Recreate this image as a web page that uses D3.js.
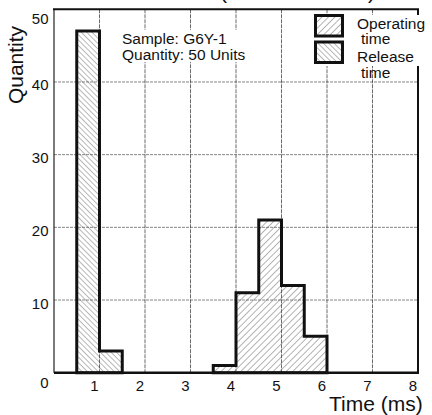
<!DOCTYPE html>
<html>
<head>
<meta charset="utf-8">
<script src="https://cdn.jsdelivr.net/npm/d3@7"></script>
<style>
  body { margin: 0; background: #fff; }
  svg text { font-family: "Liberation Sans", Arial, Helvetica, sans-serif; fill: #111; }
</style>
</head>
<body>
<svg id="main_svg_container" width="432" height="415"></svg>
<script>
// histogram bins (0.5 ms wide)
const bin_width = 0.5;
const operating_start = [3.5, 4.0, 4.5, 5.0, 5.5];
const operating_count = [1, 11, 21, 12, 5];
const release_start = [0.5, 1.0];
const release_count = [47, 3];

const x_ticks = [1, 2, 3, 4, 5, 6, 7, 8];
const y_ticks = [0, 10, 20, 30, 40, 50];
const legend_labels = [["Operating", "time"], ["Release", "time"]];
const sample_text = ["Sample: G6Y-1", "Quantity: 50 Units"];

const svg = d3.select("#main_svg_container");

const x = d3.scaleLinear().domain([0, 8]).range([54, 418]);
const y = d3.scaleLinear().domain([0, 50]).range([372.7, 9.3]);

// hatch patterns
const defs = svg.append("defs");
function addHatch(id, angle, spacing, color, width) {
  defs.append("pattern")
      .attr("id", id)
      .attr("patternUnits", "userSpaceOnUse")
      .attr("width", spacing)
      .attr("height", spacing)
      .attr("patternTransform", "rotate(" + angle + ")")
    .append("line")
      .attr("x1", 0).attr("y1", 0)
      .attr("x2", 0).attr("y2", spacing)
      .attr("stroke", color)
      .attr("stroke-width", width);
}
addHatch("hatch_operating", 45, 4.6, "#444", 0.8);
addHatch("hatch_release", -45, 3.8, "#444", 0.75);

// title (mostly cut off at the top of the picture)
svg.append("text")
    .attr("x", 220)
    .attr("y", -1.5)
    .attr("font-size", 21)
    .attr("textLength", 155)
    .text("(Reference Value)");

// grid
svg.append("g").selectAll("line")
    .data(y_ticks.filter(d => d > 0 && d < 50))
    .enter().append("line")
      .attr("x1", x(0)).attr("x2", x(8))
      .attr("y1", d => y(d)).attr("y2", d => y(d))
      .attr("stroke", "#777")
      .attr("stroke-width", 0.9)
      .attr("stroke-dasharray", "3,1");

svg.append("g").selectAll("line")
    .data(x_ticks.filter(d => d < 8))
    .enter().append("line")
      .attr("x1", d => x(d)).attr("x2", d => x(d))
      .attr("y1", y(50)).attr("y2", y(0))
      .attr("stroke", "#444")
      .attr("stroke-width", 0.8)
      .attr("stroke-dasharray", "4,1");

// histograms
function binPoints(starts, counts) {
  const pts = starts.map((s, i) => ({x: s, v: counts[i]}));
  pts.push({x: starts[starts.length - 1] + bin_width, v: 0});
  return pts;
}

const area = d3.area()
    .curve(d3.curveStepAfter)
    .x(d => x(d.x))
    .y0(y(0))
    .y1(d => y(d.v));

function drawHist(starts, counts, pattern) {
  const pts = binPoints(starts, counts);
  svg.append("path")
      .datum(pts)
      .attr("d", area)
      .attr("fill", "url(#" + pattern + ")")
      .attr("stroke", "#111")
      .attr("stroke-width", 3)
      .attr("stroke-linejoin", "miter");
}
drawHist(release_start, release_count, "hatch_release");
drawHist(operating_start, operating_count, "hatch_operating");

// frame
svg.append("line")
    .attr("x1", x(0)).attr("x2", x(0)).attr("y1", y(50)).attr("y2", y(0))
    .attr("stroke", "#222").attr("stroke-width", 1.2);
svg.append("line")
    .attr("x1", x(0) - 1).attr("x2", x(8) + 1).attr("y1", y(50)).attr("y2", y(50))
    .attr("stroke", "#111").attr("stroke-width", 2);
svg.append("line")
    .attr("x1", x(8)).attr("x2", x(8)).attr("y1", y(50)).attr("y2", y(0))
    .attr("stroke", "#111").attr("stroke-width", 2);
svg.append("line")
    .attr("x1", x(0)).attr("x2", x(8) + 1).attr("y1", y(0)).attr("y2", y(0))
    .attr("stroke", "#111").attr("stroke-width", 2.5);

// tick labels
svg.append("g").selectAll("text")
    .data(x_ticks)
    .enter().append("text")
      .attr("x", d => x(d) - 5)
      .attr("y", 390.5)
      .attr("text-anchor", "middle")
      .attr("font-size", 15)
      .text(d => d);

svg.append("g").selectAll("text")
    .data(y_ticks)
    .enter().append("text")
      .attr("x", 48.5)
      .attr("y", d => y(d) + (d === 0 ? 10 : d === 50 ? 9 : 3) + 5.5)
      .attr("text-anchor", "end")
      .attr("font-size", 15)
      .text(d => d);

// axis titles
svg.append("text")
    .attr("transform", "translate(23,65) rotate(-90)")
    .attr("text-anchor", "middle")
    .attr("font-size", 21)
    .text("Quantity");

svg.append("text")
    .attr("x", 329)
    .attr("y", 411)
    .attr("font-size", 21)
    .text("Time (ms)");

// sample note
svg.append("rect")
    .attr("x", 119).attr("y", 30).attr("width", 132).attr("height", 32)
    .attr("fill", "#fff");
svg.append("g").selectAll("text")
    .data(sample_text)
    .enter().append("text")
      .attr("x", 122)
      .attr("y", (d, i) => 44 + i * 15.8)
      .attr("font-size", 15.5)
      .text(d => d);

// legend
svg.append("rect")
    .attr("x", 308).attr("y", 15).attr("width", 124).attr("height", 51)
    .attr("fill", "#fff");
const legend_y = [15.5, 42];
const legend_patterns = ["hatch_operating", "hatch_release"];
legend_labels.forEach((lines, i) => {
  svg.append("rect")
      .attr("x", 315.5).attr("y", legend_y[i])
      .attr("width", 27).attr("height", 20.5)
      .attr("fill", "url(#" + legend_patterns[i] + ")")
      .attr("stroke", "#111")
      .attr("stroke-width", 3);
});
const legend_text_y = [[28.5, 44], [61.5, 77.5]];
legend_labels.forEach((lines, i) => {
  svg.append("text")
      .attr("x", 357).attr("y", legend_text_y[i][0])
      .attr("font-size", 15.5)
      .text(lines[0]);
  svg.append("text")
      .attr("x", 361).attr("y", legend_text_y[i][1])
      .attr("font-size", 15.5)
      .text(lines[1]);
});
</script>
</body>
</html>
